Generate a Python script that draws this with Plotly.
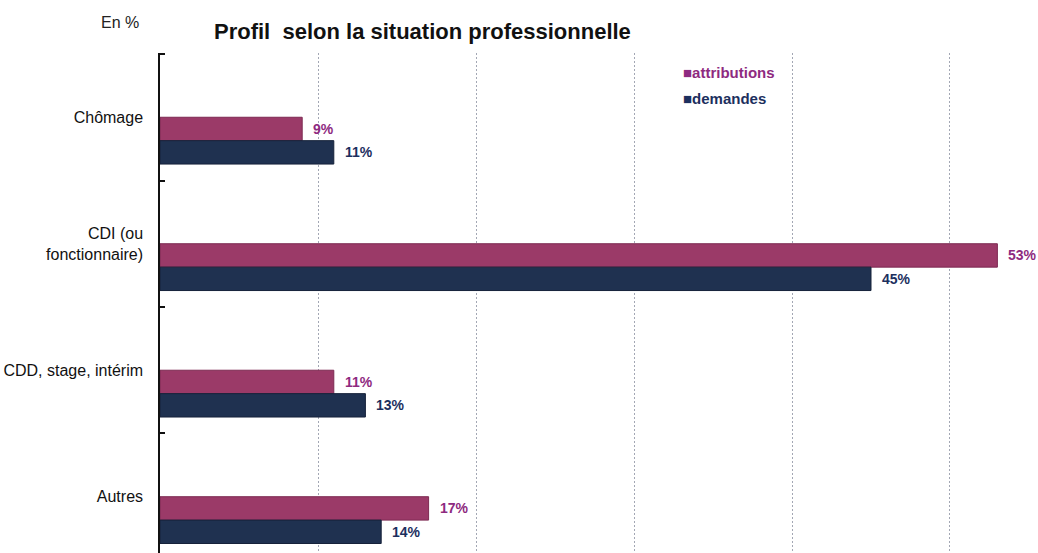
import plotly.graph_objects as go

# Data: share (%) by professional situation
categories = ["Chômage", "CDI (ou<br>fonctionnaire)", "CDD, stage, intérim", "Autres"]
attributions = [9, 53, 11, 17]
demandes = [11, 45, 13, 14]

COL_ATTR = "#9b3a68"
COL_DEM = "#1f3150"
TXT_ATTR = "#8e2a80"
TXT_DEM = "#1c2f5e"
FONT = "Liberation Sans, Arial, sans-serif"

BAR_W = 0.185  # bar thickness in category units

fig = go.Figure()
fig.add_trace(go.Bar(
    name="attributions", y=categories, x=attributions, orientation="h",
    width=BAR_W, offset=0, marker=dict(color=COL_ATTR, line=dict(color="#7d2a52", width=1)),
    showlegend=False,
))
fig.add_trace(go.Bar(
    name="demandes", y=categories, x=demandes, orientation="h",
    width=BAR_W, offset=BAR_W, marker=dict(color=COL_DEM, line=dict(color="#16223a", width=1)),
    showlegend=False,
))

annotations = []
# value labels placed just right of each bar
for i, (a, d) in enumerate(zip(attributions, demandes)):
    annotations.append(dict(
        x=a, y=i + BAR_W / 2, xref="x", yref="y", text=f"<b>{a}%</b>",
        showarrow=False, xanchor="left", yanchor="middle", xshift=9,
        font=dict(family=FONT, size=14, color=TXT_ATTR),
    ))
    annotations.append(dict(
        x=d, y=i + BAR_W * 1.5, xref="x", yref="y", text=f"<b>{d}%</b>",
        showarrow=False, xanchor="left", yanchor="middle", xshift=9,
        font=dict(family=FONT, size=14, color=TXT_DEM),
    ))

# title, unit note and legend entries
annotations += [
    dict(text="<b>Profil\u00a0 selon la situation professionnelle</b>",
         xref="paper", yref="paper", x=(212 - 160) / 878, y=1, yshift=22,
         xanchor="left", yanchor="middle", showarrow=False,
         font=dict(family=FONT, size=22, color="#111111")),
    dict(text="En %", xref="paper", yref="paper", x=(99 - 160) / 878, y=1, yshift=31,
         xanchor="left", yanchor="middle", showarrow=False,
         font=dict(family=FONT, size=16, color="#222222")),
    dict(text="<b>■attributions</b>", xref="paper", yref="paper", x=(681 - 160) / 878, y=1,
         yshift=-19, xanchor="left", yanchor="middle", showarrow=False,
         font=dict(family=FONT, size=15, color=TXT_ATTR)),
    dict(text="<b>■demandes</b>", xref="paper", yref="paper", x=(681 - 160) / 878, y=1,
         yshift=-45, xanchor="left", yanchor="middle", showarrow=False,
         font=dict(family=FONT, size=15, color=TXT_DEM)),
]

fig.update_layout(
    width=1038, height=553,
    margin=dict(l=160, r=0, t=53, b=0, autoexpand=False),
    paper_bgcolor="white", plot_bgcolor="white",
    barmode="overlay",
    showlegend=False,
    annotations=annotations,
    xaxis=dict(
        range=[0, 55.57], dtick=10, showgrid=True, gridcolor="#a3a7b4",
        griddash="2px,2px", gridwidth=1, zeroline=False, showticklabels=False,
        ticks="", showline=False,
    ),
    yaxis=dict(
        type="category", range=[3.445, -0.508], showline=True, linecolor="#111111",
        linewidth=1.5, ticks="inside", ticklen=5, tickcolor="#111111", tickwidth=1.5,
        tickson="boundaries", showgrid=False, automargin=False,
        ticklabelstandoff=12,
        tickfont=dict(family=FONT, size=16, color="#111111"),
    ),
)

fig.write_html("out.html")
